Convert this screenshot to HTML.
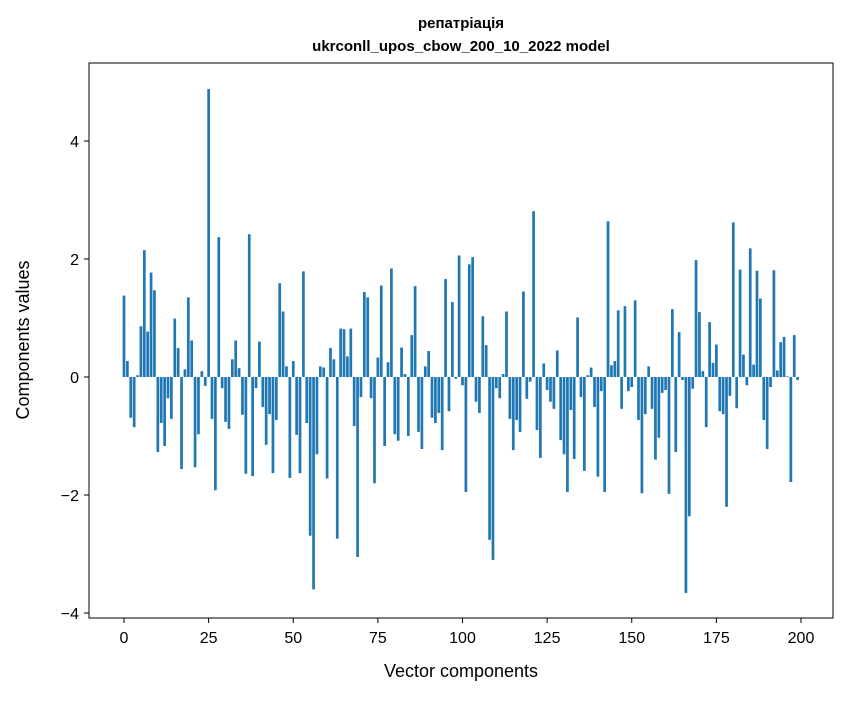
<!DOCTYPE html>
<html><head><meta charset="utf-8"><style>
body{margin:0;background:#fff;}
svg text{font-family:"Liberation Sans","DejaVu Sans",sans-serif;}
</style></head><body>
<svg id="chart" width="847" height="696" xmlns="http://www.w3.org/2000/svg">
<rect width="847" height="696" fill="#fff"/>
<text x="461" y="28" text-anchor="middle" font-size="15" font-weight="bold">репатріація</text>
<text x="461" y="51" text-anchor="middle" font-size="15" font-weight="bold">ukrconll_upos_cbow_200_10_2022 model</text>
<g id="bars"></g>
<g id="xticks"></g>
<g id="yticks"></g>
<rect x="89" y="63" width="744" height="555" fill="none" stroke="#000" stroke-width="1"/>
<text x="461" y="677" text-anchor="middle" font-size="18">Vector components</text>
<text transform="translate(29,340) rotate(-90)" text-anchor="middle" font-size="18">Components values</text>
</svg>
<script>
const values = [1.38,0.27,-0.69,-0.85,0.03,0.86,2.15,0.77,1.77,1.47,
-1.27,-0.78,-1.17,-0.36,-0.71,0.99,0.49,-1.56,0.13,1.35,
0.62,-1.53,-0.97,0.10,-0.15,4.88,-0.71,-1.92,2.37,-0.19,
-0.76,-0.88,0.30,0.62,0.15,-0.64,-1.64,2.42,-1.68,-0.19,
0.60,-0.51,-1.15,-0.63,-1.63,-0.73,1.59,1.11,0.18,-1.71,
0.27,-0.98,-1.63,1.79,-0.78,-2.69,-3.60,-1.31,0.18,0.16,
-1.72,0.49,0.30,-2.74,0.82,0.81,0.35,0.82,-0.83,-3.05,
-0.34,1.44,1.35,-0.36,-1.80,0.33,1.55,-1.17,0.25,1.84,
-0.97,-1.08,0.50,0.05,-1.00,0.71,1.54,-0.93,-1.22,0.18,
0.44,-0.69,-0.78,-0.61,-1.24,1.66,-0.58,1.27,-0.03,2.06,
-0.14,-1.95,1.91,2.03,-0.42,-0.61,1.03,0.54,-2.76,-3.10,
-0.19,-0.36,0.05,1.11,-0.71,-1.24,-0.73,-0.93,1.45,-0.37,
-0.08,2.81,-0.90,-1.37,0.23,-0.22,-0.42,-0.54,0.45,-1.07,
-1.31,-1.95,-0.56,-1.39,1.01,-0.34,-1.59,0.03,0.16,-0.51,
-1.69,-0.24,-1.95,2.64,0.20,0.27,1.13,-0.54,1.20,-0.24,
-0.17,1.30,-0.73,-1.97,-0.63,0.18,-0.54,-1.40,-1.03,-0.27,
-0.22,-1.98,1.15,-1.27,0.76,-0.05,-3.66,-2.36,-0.20,1.98,
1.10,0.10,-0.85,0.93,0.24,0.55,-0.58,-0.63,-2.20,-0.32,
2.62,-0.53,1.82,0.38,-0.14,2.18,0.21,1.80,1.33,-0.73,
-1.22,-0.17,1.81,0.11,0.59,0.68,0.01,-1.78,0.71,-0.05];
const xTickLabels = [0,25,50,75,100,125,150,175,200];
const yTickLabels = [-4,-2,0,2,4];

const NS = "http://www.w3.org/2000/svg";
const X0 = 124, XS = 3.385, Y0 = 377, YS = 59;
function xs(v){ return X0 + v*XS; }
function ys(v){ return Y0 - v*YS; }

const bars = document.getElementById('bars');
values.forEach((v,i)=>{
  const r = document.createElementNS(NS,'rect');
  
  
  const w = 0.8*XS;
  r.setAttribute('x', xs(i) - w/2);
  r.setAttribute('width', w);
  r.setAttribute('y', Math.min(ys(v), ys(0)));
  r.setAttribute('height', Math.abs(ys(v) - ys(0)));
  r.setAttribute('fill', '#1f77b4');
  bars.appendChild(r);
});

const xg = document.getElementById('xticks');
xTickLabels.forEach(t=>{
  const l = document.createElementNS(NS,'line');
  
  
  l.setAttribute('x1', xs(t)); l.setAttribute('x2', xs(t));
  l.setAttribute('y1', 618); l.setAttribute('y2', 623);
  l.setAttribute('stroke', '#000');
  xg.appendChild(l);
  const tx = document.createElementNS(NS,'text');
  
  
  tx.setAttribute('x', xs(t)); tx.setAttribute('y', 643);
  tx.setAttribute('text-anchor', 'middle');
  tx.setAttribute('font-size', '16');
  tx.textContent = t;
  xg.appendChild(tx);
});

const yg = document.getElementById('yticks');
yTickLabels.forEach(t=>{
  const l = document.createElementNS(NS,'line');
  
  
  l.setAttribute('x1', 84); l.setAttribute('x2', 89);
  l.setAttribute('y1', ys(t)); l.setAttribute('y2', ys(t));
  l.setAttribute('stroke', '#000');
  yg.appendChild(l);
  const tx = document.createElementNS(NS,'text');
  
  
  tx.setAttribute('x', 79); tx.setAttribute('y', ys(t) + 6);
  tx.setAttribute('text-anchor', 'end');
  tx.setAttribute('font-size', '16');
  tx.textContent = t < 0 ? '\u2212' + Math.abs(t) : t;
  yg.appendChild(tx);
});
</script>
</body></html>
